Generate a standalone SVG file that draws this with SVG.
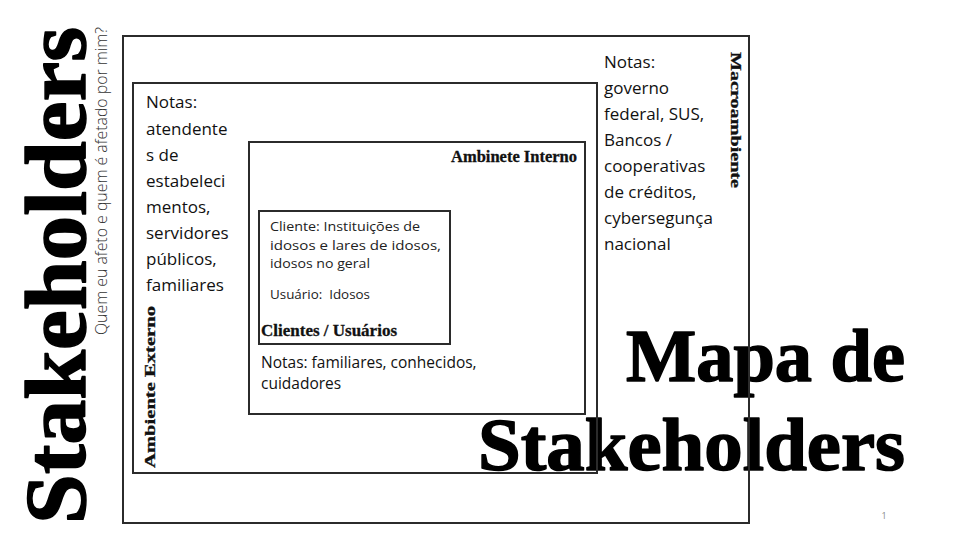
<svg xmlns="http://www.w3.org/2000/svg" width="960" height="540" viewBox="0 0 960 540">
<style>
.box{fill:none;stroke:#2b2b2b;stroke-width:2}
.title{font-family:"Liberation Serif","DejaVu Serif",serif;font-weight:bold;fill:#000;stroke:#000;stroke-width:1.5;stroke-linejoin:round}
.lbl{font-family:"Liberation Serif","DejaVu Serif",serif;font-weight:bold;fill:#111;stroke:#111;stroke-width:0.3}
.note{font-family:"Open Sans","Noto Sans",sans-serif;fill:#111;font-size:17px}
.cli{font-family:"Open Sans","Noto Sans",sans-serif;fill:#222;font-size:13px}
.sub{font-family:"Open Sans","Noto Sans",sans-serif;font-weight:300;fill:#333;font-size:16px}
</style>
<rect width="960" height="540" fill="#fff"/>

<g id="left-title">
<text class="title" font-size="86" transform="translate(85,524) rotate(-90)" textLength="497" lengthAdjust="spacingAndGlyphs">Stakeholders</text>
<text class="sub" transform="translate(107,335) rotate(-90)" textLength="308" lengthAdjust="spacingAndGlyphs">Quem eu afeto e quem é afetado por mim?</text>
</g>

<g id="main-title">
<text class="title" font-size="74" x="626" y="381" textLength="279" lengthAdjust="spacingAndGlyphs">Mapa de</text>
<text class="title" font-size="74" x="478" y="470" textLength="427" lengthAdjust="spacingAndGlyphs">Stakeholders</text>
</g>

<g id="macroambiente">
<rect class="box" x="123" y="36" width="626" height="487"/>
<text class="lbl" font-size="15" transform="translate(731,52) rotate(90)" textLength="136" lengthAdjust="spacingAndGlyphs">Macroambiente</text>
<text class="note" x="604" y="68">Notas:</text>
<text class="note" x="604" y="94">governo</text>
<text class="note" x="604" y="120">federal, SUS,</text>
<text class="note" x="604" y="146">Bancos /</text>
<text class="note" x="604" y="172">cooperativas</text>
<text class="note" x="604" y="198">de créditos,</text>
<text class="note" x="604" y="224">cybersegunça</text>
<text class="note" x="604" y="250">nacional</text>
</g>

<g id="ambiente-externo">
<rect class="box" x="133" y="83" width="464" height="390"/>
<text class="lbl" font-size="14" transform="translate(155,468) rotate(-90)" textLength="162" lengthAdjust="spacingAndGlyphs">Ambiente Externo</text>
<text class="note" x="146" y="108">Notas:</text>
<text class="note" x="146" y="135">atendente</text>
<text class="note" x="146" y="161">s de</text>
<text class="note" x="146" y="187">estabeleci</text>
<text class="note" x="146" y="213">mentos,</text>
<text class="note" x="146" y="239">servidores</text>
<text class="note" x="146" y="265">públicos,</text>
<text class="note" x="146" y="291">familiares</text>
</g>

<g id="ambiente-interno">
<rect class="box" x="249" y="142" width="336" height="272"/>
<text class="lbl" font-size="16.5" x="577" y="162" text-anchor="end">Ambinete Interno</text>
<text class="note" x="261" y="368" style="font-size:15.5px">Notas: familiares, conhecidos,</text>
<text class="note" x="261" y="389" style="font-size:15.5px">cuidadores</text>
</g>

<g id="clientes-usuarios">
<rect class="box" x="259" y="211" width="191" height="133"/>
<text class="cli" x="270" y="231" textLength="150" lengthAdjust="spacingAndGlyphs">Cliente: Instituições de</text>
<text class="cli" x="270" y="250" textLength="171" lengthAdjust="spacingAndGlyphs">idosos e lares de idosos,</text>
<text class="cli" x="270" y="268" textLength="100" lengthAdjust="spacingAndGlyphs">idosos no geral</text>
<text class="cli" x="270" y="299" textLength="100" lengthAdjust="spacingAndGlyphs" xml:space="preserve">Usuário:  Idosos</text>
<text class="lbl" font-size="17" x="261" y="336">Clientes / Usuários</text>
</g>

<text x="884" y="519" font-family="Open Sans, sans-serif" font-size="9" fill="#888" text-anchor="middle">1</text>
</svg>
